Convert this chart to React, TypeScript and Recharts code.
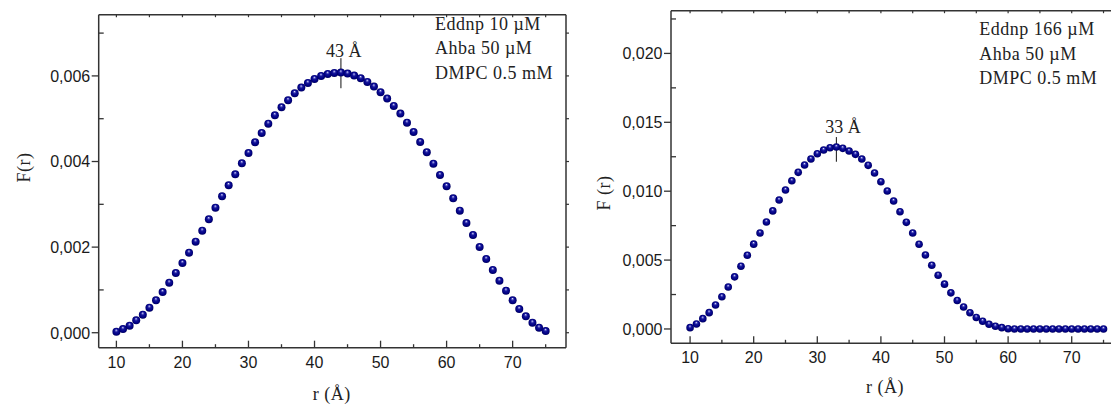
import React from 'react';
import { ScatterChart, Scatter, XAxis, YAxis, ReferenceLine } from 'recharts';

// ---------- data ----------
const radii = [
  10, 11, 12, 13, 14, 15, 16, 17, 18, 19, 20, 21, 22, 23, 24, 25, 26, 27, 28, 29, 30, 31, 32,
  33, 34, 35, 36, 37, 38, 39, 40, 41, 42, 43, 44, 45, 46, 47, 48, 49, 50, 51, 52, 53, 54, 55,
  56, 57, 58, 59, 60, 61, 62, 63, 64, 65, 66, 67, 68, 69, 70, 71, 72, 73, 74, 75,
];

const fLeft = [
  0.000023, 0.000086, 0.000164, 0.00029, 0.000421, 0.000584, 0.000757, 0.000951, 0.001169,
  0.001395, 0.001629, 0.00187, 0.002127, 0.002384, 0.00265, 0.002922, 0.003188, 0.003445,
  0.003702, 0.003959, 0.0042, 0.00445, 0.004668, 0.004885, 0.005081, 0.005268, 0.005432,
  0.005596, 0.005727, 0.005836, 0.00593, 0.006, 0.006047, 0.00607, 0.006077, 0.006054,
  0.006007, 0.005946, 0.00586, 0.00575, 0.005619, 0.00547, 0.005299, 0.005119, 0.004908,
  0.004691, 0.004457, 0.004217, 0.00395, 0.003686, 0.003422, 0.003141, 0.002852, 0.002564,
  0.002284, 0.002003, 0.001723, 0.001466, 0.001215, 0.000982, 0.000757, 0.000554, 0.000383,
  0.000234, 0.000117, 0.00004,
];

const fRight = [
  0.000097, 0.000363, 0.000749, 0.001185, 0.001741, 0.002343, 0.003045, 0.003783, 0.004557,
  0.005346, 0.006155, 0.006964, 0.007762, 0.008571, 0.009358, 0.010083, 0.010758, 0.011367,
  0.011897, 0.012332, 0.012717, 0.012985, 0.013152, 0.013203, 0.013109, 0.012913, 0.012674,
  0.012332, 0.011875, 0.011317, 0.010686, 0.010011, 0.009286, 0.008509, 0.00774, 0.006964,
  0.006144, 0.005368, 0.004621, 0.003896, 0.003254, 0.002622, 0.002066, 0.001596, 0.001172,
  0.000835, 0.000557, 0.000338, 0.000193, 0.000097, 0.00002, 0, 0, 0, 0, 0, 0, 0, 0, 0, 0, 0,
  0, 0, 0, 0,
];

const xMajorTicks = [10, 20, 30, 40, 50, 60, 70];
const xMinorTicks = [15, 25, 35, 45, 55, 65, 75];
const xTopTicks = [10, 15, 20, 25, 30, 35, 40, 45, 50, 55, 60, 65, 70, 75];

const yMajorLeft = [0, 0.002, 0.004, 0.006];
const yMinorLeft = [0.001, 0.003, 0.005, 0.007];
const yRightLeft = [0, 0.001, 0.002, 0.003, 0.004, 0.005, 0.006, 0.007];

const yMajorRight = [0, 0.005, 0.01, 0.015, 0.02];
const yMinorRight = [0.0025, 0.0075, 0.0125, 0.0175, 0.0225];
const yRightRight = [0, 0.0025, 0.005, 0.0075, 0.01, 0.0125, 0.015, 0.0175, 0.02, 0.0225];

const legendLeft = ['Eddnp 10 \u00b5M', 'Ahba 50 \u00b5M', 'DMPC 0.5 mM'];
const legendRight = ['Eddnp 166 \u00b5M', 'Ahba 50 \u00b5M', 'DMPC 0.5 mM'];

const peakLeft = { r: 44, label: '43 \u00c5', lo: 0.005712, hi: 0.006414 };
const peakRight = { r: 33, label: '33 \u00c5', lo: 0.012137, hi: 0.013928 };

const yTitle1 = 'F(r)';
const yTitle2 = 'F (r)';
const xTitle = 'r (\u00c5)';

// ---------- styling ----------
const AXIS = '#333333';
const SANS = '"Liberation Sans", Arial, sans-serif';
const SERIF = '"Liberation Serif", "Times New Roman", serif';

const leftData = radii.map((r, i) => ({ r, f: fLeft[i] }));
const rightData = radii.map((r, i) => ({ r, f: fRight[i] }));

const fmt = (v: number) => v.toFixed(3).replace('.', ',');

const makeBall = (rad: number) => (p: any) => (
  <circle cx={p.cx} cy={p.cy} r={rad} fill="url(#ballGrad)" />
);

const LeftTick = (majors: number[]) => (p: any) => {
  const { x, y, payload } = p;
  const isMajor = majors.includes(payload.value);
  return (
    <g>
      {isMajor ? (
        <line x1={x - 7} x2={x} y1={y} y2={y} stroke={AXIS} strokeWidth={1.3} />
      ) : (
        <line x1={x} x2={x + 5} y1={y} y2={y} stroke={AXIS} strokeWidth={1.3} />
      )}
      {isMajor && (
        <text x={x - 8.5} y={y} dy={5.8} textAnchor="end" fontSize={16} fontFamily={SANS} fill="#1a1a1a">
          {fmt(payload.value)}
        </text>
      )}
    </g>
  );
};

const BottomTick = (majors: number[], labelDy: number) => (p: any) => {
  const { x, y, payload } = p;
  const isMajor = majors.includes(payload.value);
  return (
    <g>
      <line x1={x} x2={x} y1={y} y2={y - (isMajor ? 7 : 3.5)} stroke={AXIS} strokeWidth={1.3} />
      {isMajor && (
        <text x={x} y={y + labelDy} textAnchor="middle" fontSize={16} fontFamily={SANS} fill="#1a1a1a">
          {payload.value}
        </text>
      )}
    </g>
  );
};

const TopTick = (p: any) => (
  <line x1={p.x} x2={p.x} y1={p.y} y2={p.y + 2.5} stroke={AXIS} strokeWidth={1.2} />
);

const RightTick = (p: any) => (
  <line x1={p.x} x2={p.x + 3} y1={p.y} y2={p.y} stroke={AXIS} strokeWidth={1.2} />
);

const peakLabel = (text: string, dx: number, off: number) => (p: any) => {
  const vb = p.viewBox || {};
  const cx = (vb.x ?? 0) + (vb.width ?? 0) / 2;
  return (
    <text x={cx + dx} y={(vb.y ?? 0) - off} textAnchor="middle" fontSize={18} fontFamily={SERIF} fill="#222">
      {text}
    </text>
  );
};

const axisLine = { stroke: AXIS, strokeWidth: 1.5 };

export default function App() {
  return (
    <div style={{ position: 'fixed', left: 0, top: 0, width: 1111, height: 404, overflow: 'hidden', background: '#fff' }}>
      <svg width={0} height={0} style={{ position: 'absolute' }}>
        <defs>
          <radialGradient id="ballGrad" cx="50%" cy="50%" r="55%" fx="48%" fy="28%">
            <stop offset="0%" stopColor="#e8ecff" />
            <stop offset="16%" stopColor="#7070d0" />
            <stop offset="38%" stopColor="#141498" />
            <stop offset="72%" stopColor="#000084" />
            <stop offset="100%" stopColor="#000052" />
          </radialGradient>
        </defs>
      </svg>

      <div style={{ position: 'absolute', left: 0, top: 0 }}>
        <ScatterChart width={580} height={404} margin={{ top: 0, right: 0, bottom: 0, left: 0 }}>
          <XAxis
            xAxisId="b"
            type="number"
            dataKey="r"
            domain={[7.32, 78.08]}
            allowDataOverflow
            ticks={[...xMajorTicks, ...xMinorTicks]}
            interval={0}
            height={56.3}
            tickSize={0}
            tickMargin={0}
            tickLine={false}
            axisLine={axisLine}
            tick={BottomTick(xMajorTicks, 20.6)}
          />
          <XAxis
            xAxisId="t"
            orientation="top"
            type="number"
            dataKey="r"
            domain={[7.32, 78.08]}
            allowDataOverflow
            ticks={xTopTicks}
            interval={0}
            height={14.7}
            tickSize={0}
            tickMargin={0}
            tickLine={false}
            axisLine={axisLine}
            tick={TopTick}
          />
          <YAxis
            yAxisId="l"
            type="number"
            dataKey="f"
            domain={[-0.00035, 0.00743]}
            allowDataOverflow
            ticks={[...yMajorLeft, ...yMinorLeft]}
            interval={0}
            width={98.7}
            tickSize={0}
            tickMargin={0}
            tickLine={false}
            axisLine={axisLine}
            tick={LeftTick(yMajorLeft)}
          />
          <YAxis
            yAxisId="r"
            orientation="right"
            type="number"
            dataKey="f"
            domain={[-0.00035, 0.00743]}
            allowDataOverflow
            ticks={yRightLeft}
            interval={0}
            width={14}
            tickSize={0}
            tickMargin={0}
            tickLine={false}
            axisLine={axisLine}
            tick={RightTick}
          />
          <ReferenceLine
            xAxisId="b"
            yAxisId="l"
            segment={[
              { x: peakLeft.r, y: peakLeft.lo },
              { x: peakLeft.r, y: peakLeft.hi },
            ]}
            stroke="#111"
            strokeWidth={1}
            label={peakLabel(peakLeft.label, 2.7, 1)}
          />
          <Scatter
            xAxisId="b"
            yAxisId="l"
            data={leftData}
            isAnimationActive={false}
            shape={makeBall(4)}
          />
        </ScatterChart>
      </div>

      <div style={{ position: 'absolute', left: 580, top: 0 }}>
        <ScatterChart width={560} height={404} margin={{ top: 0, right: 0, bottom: 0, left: 0 }}>
          <XAxis
            xAxisId="b"
            type="number"
            dataKey="r"
            domain={[7, 78]}
            allowDataOverflow
            ticks={[...xMajorTicks, ...xMinorTicks]}
            interval={0}
            height={60.7}
            tickSize={0}
            tickMargin={0}
            tickLine={false}
            axisLine={axisLine}
            tick={BottomTick(xMajorTicks, 20)}
          />
          <XAxis
            xAxisId="t"
            orientation="top"
            type="number"
            dataKey="r"
            domain={[7, 78]}
            allowDataOverflow
            ticks={xTopTicks}
            interval={0}
            height={10.7}
            tickSize={0}
            tickMargin={0}
            tickLine={false}
            axisLine={axisLine}
            tick={TopTick}
          />
          <YAxis
            yAxisId="l"
            type="number"
            dataKey="f"
            domain={[-0.00104, 0.0231]}
            allowDataOverflow
            ticks={[...yMajorRight, ...yMinorRight]}
            interval={0}
            width={91}
            tickSize={0}
            tickMargin={0}
            tickLine={false}
            axisLine={axisLine}
            tick={LeftTick(yMajorRight)}
          />
          <YAxis
            yAxisId="r"
            orientation="right"
            type="number"
            dataKey="f"
            domain={[-0.00104, 0.0231]}
            allowDataOverflow
            ticks={yRightRight}
            interval={0}
            width={17.4}
            tickSize={0}
            tickMargin={0}
            tickLine={false}
            axisLine={axisLine}
            tick={RightTick}
          />
          <ReferenceLine
            xAxisId="b"
            yAxisId="l"
            segment={[
              { x: peakRight.r, y: peakRight.lo },
              { x: peakRight.r, y: peakRight.hi },
            ]}
            stroke="#111"
            strokeWidth={1}
            label={peakLabel(peakRight.label, 6.7, 3.7)}
          />
          <Scatter
            xAxisId="b"
            yAxisId="l"
            data={rightData}
            isAnimationActive={false}
            shape={makeBall(3.8)}
          />
        </ScatterChart>
      </div>

      <svg
        width={1111}
        height={404}
        style={{ position: 'absolute', left: 0, top: 0, pointerEvents: 'none' }}
      >
        <g fontFamily={SERIF} fontSize={18} fill="#222" letterSpacing={0.5}>
          {legendLeft.map((t, i) => (
            <text key={'l' + i} x={435} y={29.5 + i * 24.5}>
              {t}
            </text>
          ))}
          {legendRight.map((t, i) => (
            <text key={'r' + i} x={979.3} y={35 + i * 24.5}>
              {t}
            </text>
          ))}
          <text transform="translate(29.5,167.5) rotate(-90)" textAnchor="middle">
            {yTitle1}
          </text>
          <text transform="translate(609.5,193) rotate(-90)" textAnchor="middle">
            {yTitle2}
          </text>
          <text x={331.7} y={399.5} textAnchor="middle">
            {xTitle}
          </text>
          <text x={885} y={393} textAnchor="middle">
            {xTitle}
          </text>
        </g>
      </svg>
    </div>
  );
}
